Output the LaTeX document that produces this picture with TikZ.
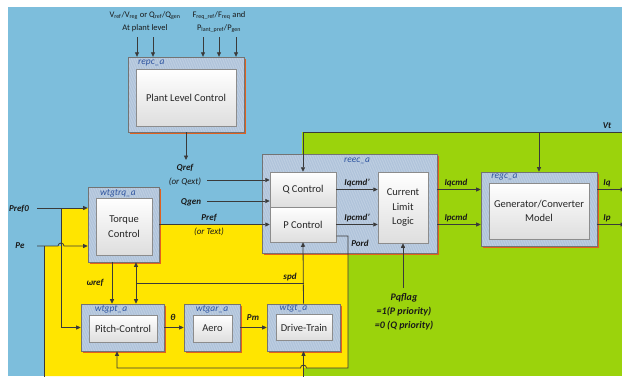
\documentclass[tikz,border=0pt]{standalone}
\usepackage{fontspec}
\setmainfont{Carlito}
\usetikzlibrary{arrows.meta,patterns.meta}
\definecolor{bgblue}{HTML}{7DBEDC}
\definecolor{bggreen}{HTML}{9BD30C}
\definecolor{bgyellow}{HTML}{FFE500}
\definecolor{boxblue}{HTML}{AFC3DA}
\definecolor{hatch}{HTML}{C9D7E7}
\definecolor{lblblue}{HTML}{2F55A0}
\definecolor{linec}{HTML}{3A3A3A}
\definecolor{shdc}{HTML}{E2601E}
\newcommand\sdw[1]{\draw[shd] ([xshift=1pt,yshift=-2pt]#1.north east) -- ([xshift=1pt,yshift=-1pt]#1.south east) -- ([xshift=2pt,yshift=-1pt]#1.south west);}
\begin{document}
\begin{tikzpicture}[x=1pt,y=-1pt,
 outer/.style={draw=black!55, line width=0.6pt, preaction={fill=boxblue}, pattern={Lines[angle=75,distance=1.6pt,line width=0.35pt]}, pattern color=hatch, inner sep=0pt},
 inner/.style={draw=black!45, line width=0.5pt, top color=white, bottom color=black!13, inner sep=0pt, align=center, font=\fontsize{10.5}{14.5}\selectfont, text=black!85},
 blab/.style={font=\itshape\fontsize{9.5}{10}\selectfont, text=lblblue, inner sep=0pt},
 slab/.style={font=\bfseries\itshape\fontsize{9}{10}\selectfont, inner sep=0pt, text=black!90},
 ilab/.style={font=\itshape\fontsize{9}{10}\selectfont, inner sep=0pt, text=black!90},
 qlab/.style={font=\bfseries\itshape\fontsize{10}{11}\selectfont, inner sep=0pt, text=black!90},
 tlab/.style={font=\fontsize{8.5}{13}\selectfont, inner sep=0pt, align=center, text=black!90},
 sig/.style={draw=linec, line width=0.8pt, -{Triangle[length=4.5pt,width=4pt]}},
 wire/.style={draw=linec, line width=0.8pt},
 shd/.style={draw=shdc, line width=1.1pt}]
\useasboundingbox (0,0) rectangle (622,376);
% backgrounds
\fill[white] (0,0) rectangle (622,376);
\fill[bgblue] (8,7) rectangle (622,376);
\fill[bggreen] (302,132) rectangle (622,376);
\fill[bgyellow] (44,376) -- (44,246) -- (61,246) -- (61,208) -- (160,208) -- (160,224) -- (262,224) -- (262,253) -- (348,253) -- (348,368) -- (303,368) -- (303,376) -- cycle;
% outer boxes
\node[outer, minimum width=116pt, minimum height=75pt] (repc) at (186,94.5) {};
\node[outer, minimum width=175pt, minimum height=99pt] (reec) at (349.5,203.5) {};
\node[outer, minimum width=116pt, minimum height=74pt] (regc) at (539,209) {};
\node[outer, minimum width=71pt, minimum height=75pt] (torque) at (123.5,224.5) {};
\node[outer, minimum width=83pt, minimum height=47pt] (pitch) at (122.5,327.5) {};
\node[outer, minimum width=56pt, minimum height=47pt] (aero) at (212,327.5) {};
\node[outer, minimum width=73pt, minimum height=47pt] (drive) at (303.5,327.5) {};
\sdw{repc}\sdw{reec}\sdw{regc}\sdw{torque}\sdw{pitch}\sdw{aero}\sdw{drive}
% inner boxes
\node[inner, minimum width=100pt, minimum height=57pt] (repci) at (186,97.5) {Plant Level Control};
\node[inner, minimum width=66pt, minimum height=35pt] (qctl) at (303,189.5) {Q Control};
\node[inner, minimum width=66pt, minimum height=35pt] (pctl) at (303,224.5) {P Control};
\node[inner, minimum width=50pt, minimum height=71pt] (cll) at (403,207.5) {Current\\Limit\\Logic};
\node[inner, minimum width=100pt, minimum height=56pt] (regci) at (539,211) {Generator/Converter\\Model};
\node[inner, minimum width=56pt, minimum height=57pt] (torquei) at (124,226.5) {Torque\\Control};
\node[inner, minimum width=68pt, minimum height=27pt] (pitchi) at (123,328.5) {Pitch-Control};
\node[inner, minimum width=39pt, minimum height=27pt] (aeroi) at (212.5,328.5) {Aero};
\node[inner, minimum width=56pt, minimum height=26pt] (drivei) at (304,327.5) {Drive-Train};
% box labels
\node[blab, anchor=west] (repcl) at (138,63) {repc\_a};
\node[blab] (reecl) at (357,161) {reec\_a};
\node[blab] (regcl) at (504.5,177) {regc\_a};
\node[blab] (torquel) at (118,193) {wtgtrq\_a};
\node[blab] (pitchl) at (111,309) {wtgpt\_a};
\node[blab] (aerol) at (212,309) {wtgar\_a};
\node[blab] (drivel) at (293.5,308) {wtgt\_a};
% top inputs
\foreach \x [count=\i] in {137,153,203,219,236} {
  \coordinate (tin\i) at (\x,37);
  \draw[sig] (tin\i) -- (tin\i |- repc.north);
}
\node[tlab] (tl1) at (145,21.5) {V\textsubscript{ref}/V\textsubscript{reg} or Q\textsubscript{ref}/Q\textsubscript{gen}\\At plant level};
\node[tlab] (tl2) at (219,22) {F\textsubscript{req\_ref}/F\textsubscript{req} and\\P\textsubscript{lant\_pref}/P\textsubscript{gen}};
% Qref
\coordinate (qrefe) at (186,160);
\draw[sig] (repc.south) -- (qrefe);
\node[slab] (qreflab) at (185,168) {Qref};
\node[ilab] (qextlab) at (185,182) {(or Qext)};
\coordinate (qexts) at (207,180);
\draw[sig] (qexts) -- (qexts -| qctl.west);
% Qgen
\node[slab] (qgenlab) at (191,202) {Qgen};
\coordinate (qgens) at (207,201);
\draw[sig] (qgens) -- (qgens -| qctl.west);
% Pref
\draw[sig] (torque.east) -- (torque.east -| pctl.west);
\node[slab] (preflab) at (209,218) {Pref};
\node[ilab] (textlab) at (209,232) {(or Text)};
% reec internal
\draw[sig] (qctl.east) -- (qctl.east -| cll.west);
\node[slab] (iqp) at (357,183) {Iqcmd'};
\draw[sig] (pctl.east) -- (pctl.east -| cll.west);
\node[slab] (ipp) at (357,218) {Ipcmd'};
% reec -> regc
\draw[sig] (reec.east |- qctl.east) -- (qctl.east -| regc.west);
\node[slab] (iqc) at (456,183) {Iqcmd};
\draw[sig] (reec.east |- pctl.east) -- (pctl.east -| regc.west);
\node[slab] (ipc) at (456,218) {Ipcmd};
% outputs
\coordinate (iqe) at (625,189.5);
\draw[sig] (regc.east |- iqe) -- (iqe);
\node[slab] (iql) at (607,183) {Iq};
\coordinate (ipe) at (625,224.5);
\draw[sig] (regc.east |- ipe) -- (ipe);
\node[slab] (ipl) at (607,218) {Ip};
% Vt
\coordinate (vtr) at (623,132);
\coordinate (vtl) at (303,132);
\draw[sig] (vtr) -- (vtl) -- (qctl.north);
\draw[sig] (vtr -| regc.north) -- (regc.north);
\node[slab] (vtlab) at (607,126) {Vt};
% Pord
\coordinate (pord1) at (348,236);
\coordinate (pordc) at (348,368);
\coordinate (pfb) at (117,368);
\draw[sig] (pord1 -| pctl.east) -- (pord1) -- (pordc) -- (306.5,368) arc[start angle=0,end angle=180,radius=3pt] -- (pfb) -- (pfb |- pitch.south);
\node[slab] (pordlab) at (360,243) {Pord};
% drive-train bottom input
\coordinate (dtb) at (303.5,378);
\draw[sig] (dtb) -- (drive.south);
% Pqflag
\coordinate (pqs) at (403,288);
\draw[sig] (pqs) -- (cll.south);
\node[qlab] (pq1) at (404,298) {Pqflag};
\node[qlab] (pq2) at (404,312) {=1(P priority)};
\node[qlab] (pq3) at (404,326) {=0 (Q priority)};
% spd
\draw[sig] (drive.north) -- (pctl.south);
\coordinate (spdj) at (303.5,283);
\coordinate (spdl) at (136,283);
\draw[wire] (spdj) -- (spdl);
\draw[wire, {Triangle[length=4.5pt,width=4pt]}-{Triangle[length=4.5pt,width=4pt]}] (spdl |- torque.south) -- (spdl |- pitch.north);
\node[slab] (spdlab) at (290,277) {spd};
% wref
\coordinate (wr) at (112,283);
\draw[sig] (wr |- torque.south) -- (wr |- pitch.north);
\node[slab] (wrlab) at (95,283) {ωref};
% theta, Pm
\draw[sig] (pitch.east) -- (aero.west);
\node[slab] (thlab) at (173,317) {θ};
\draw[sig] (aero.east) -- (drive.west);
\node[slab] (pmlab) at (253,318) {Pm};
% Pref0
\coordinate (pref0s) at (37,208);
\draw[sig] (pref0s) -- (pref0s -| torque.west);
\coordinate (p0j) at (61,208);
\coordinate (p0b) at (61,327.5);
\draw[sig] (p0j) -- (p0b) -- (pitch.west);
\node[slab] (pref0lab) at (19,209) {Pref0};
% Pe
\coordinate (pes) at (37,246);
\draw[sig] (pes) -- (58,246) arc[start angle=180,end angle=0,radius=3pt] -- (pes -| torque.west);
\coordinate (pej) at (44,246);
\coordinate (peb) at (44,378);
\draw[wire] (pej) -- (peb);
\node[slab] (pelab) at (20,246) {Pe};
\end{tikzpicture}
\end{document}
